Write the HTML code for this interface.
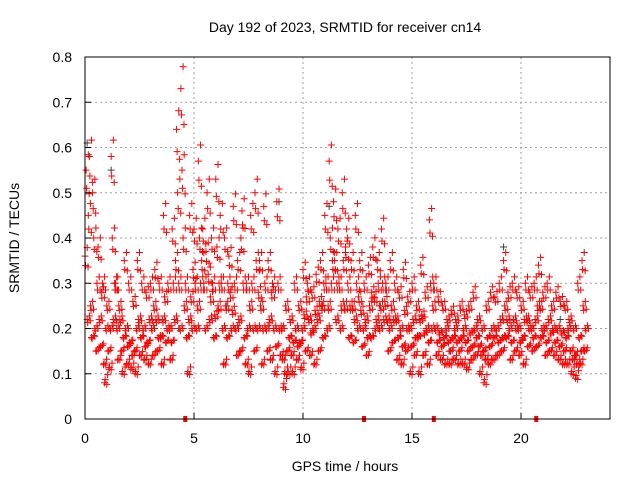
<!DOCTYPE html>
<html><head><meta charset="utf-8"><style>
body{margin:0;background:#fff}
svg{display:block;font-family:"Liberation Sans",sans-serif}
</style></head><body>
<svg id="chart" width="640" height="480">
<rect width="640" height="480" fill="#fff"/>
<text x="345" y="32" font-size="14" text-anchor="middle">Day 192 of 2023, SRMTID for receiver cn14</text>
<text x="345" y="471" font-size="14" text-anchor="middle">GPS time / hours</text>
<text transform="translate(19,238) rotate(-90)" font-size="14" text-anchor="middle">SRMTID / TECUs</text>
<g id="grid"></g><g id="gray"></g><g id="red"></g><g id="axes"></g>
</svg>
<script>
const xTicks=[0,5,10,15,20];
const yTicks=[0,0.1,0.2,0.3,0.4,0.5,0.6,0.7,0.8];
const yTickLabels=["0","0.1","0.2","0.3","0.4","0.5","0.6","0.7","0.8"];
const times=[0,0.2,0.4,0.6,0.8,1,1.2,1.4,1.6,1.8,2,2.2,2.4,2.6,2.8,3,3.2,3.4,3.6,3.8,4,4.2,4.4,4.6,4.8,5,5.2,5.4,5.6,5.8,6,6.2,6.4,6.6,6.8,7,7.2,7.4,7.6,7.8,8,8.2,8.4,8.6,8.8,9,9.2,9.4,9.6,9.8,10,10.2,10.4,10.6,10.8,11,11.2,11.4,11.6,11.8,12,12.2,12.4,12.6,12.8,13,13.2,13.4,13.6,13.8,14,14.2,14.4,14.6,14.8,15,15.2,15.4,15.6,15.8,16,16.2,16.4,16.6,16.8,17,17.2,17.4,17.6,17.8,18,18.2,18.4,18.6,18.8,19,19.2,19.4,19.6,19.8,20,20.2,20.4,20.6,20.8,21,21.2,21.4,21.6,21.8,22,22.2,22.4,22.6,22.8];
const vals=[[.36,.55,.22,.45],[.58,.25,.18,.5],[.4,.2,.15,.3],[.38,.22,.16,.28],[.3,.12,.08,.2],[.25,.15,.11,.2],[.58,.4,.22,.3],[.3,.2,.13,.25],[.22,.15,.1,.18],[.35,.2,.12,.16],[.3,.17,.11,.14],[.26,.15,.1,.2],[.35,.22,.14,.18],[.3,.2,.13,.16],[.28,.17,.12,.22],[.3,.2,.14,.25],[.33,.22,.15,.18],[.3,.18,.12,.22],[.45,.27,.17,.2],[.3,.2,.13,.17],[.42,.3,.22,.35],[.64,.5,.3,.2],[.73,.55,.4,.25],[.3,.18,.1,.22],[.45,.27,.2,.33],[.42,.3,.2,.25],[.57,.4,.3,.35],[.42,.3,.2,.37],[.5,.32,.22,.27],[.4,.3,.18,.23],[.53,.38,.25,.3],[.45,.3,.2,.12],[.4,.25,.18,.3],[.36,.28,.2,.24],[.47,.3,.2,.14],[.35,.22,.15,.4],[.46,.3,.18,.12],[.3,.2,.1,.25],[.45,.3,.2,.15],[.5,.35,.2,.28],[.35,.25,.12,.2],[.47,.3,.2,.15],[.35,.22,.13,.28],[.3,.2,.1,.16],[.48,.3,.2,.14],[.2,.13,.07,.1],[.25,.15,.1,.18],[.22,.14,.1,.17],[.3,.2,.13,.16],[.25,.17,.11,.2],[.33,.23,.15,.27],[.3,.22,.14,.19],[.28,.2,.12,.24],[.32,.22,.15,.26],[.35,.25,.18,.3],[.45,.3,.2,.25],[.57,.4,.3,.35],[.48,.35,.22,.3],[.42,.3,.2,.25],[.5,.35,.25,.38],[.42,.3,.18,.25],[.35,.25,.17,.22],[.45,.3,.2,.27],[.35,.24,.16,.2],[.3,.22,.14,.18],[.34,.25,.18,.28],[.38,.27,.2,.22],[.35,.3,.2,.25],[.42,.3,.22,.26],[.3,.22,.15,.2],[.35,.25,.17,.22],[.3,.22,.13,.18],[.28,.2,.12,.16],[.33,.24,.15,.2],[.27,.2,.1,.16],[.3,.22,.14,.18],[.25,.18,.1,.22],[.34,.23,.14,.19],[.28,.2,.12,.17],[.44,.3,.2,.25],[.3,.2,.14,.17],[.27,.19,.13,.16],[.25,.18,.12,.2],[.22,.17,.12,.15],[.24,.18,.13,.2],[.22,.17,.12,.15],[.25,.18,.12,.2],[.23,.17,.11,.15],[.25,.19,.13,.16],[.28,.2,.14,.18],[.22,.16,.1,.14],[.2,.15,.08,.13],[.25,.18,.12,.16],[.28,.2,.13,.18],[.27,.2,.14,.17],[.3,.22,.15,.18],[.35,.25,.18,.22],[.28,.2,.13,.17],[.3,.22,.15,.2],[.28,.2,.14,.17],[.25,.18,.12,.22],[.3,.22,.16,.2],[.28,.2,.15,.18],[.3,.22,.16,.25],[.34,.25,.18,.2],[.28,.2,.14,.17],[.3,.22,.15,.19],[.25,.2,.14,.17],[.28,.2,.13,.16],[.26,.19,.12,.15],[.25,.18,.12,.2],[.22,.15,.1,.13],[.2,.14,.09,.12],[.3,.18,.12,.15],[.35,.25,.15,.2]];
const grayT=[0.1,1.2,4.3,6.5,8.9,11.2,13.5,16.7,19.2,21.8,22.5];
const grayV=[0.61,0.55,0.2,0.25,0.48,0.47,0.25,0.15,0.38,0.22,0.14];
const gapT=[4.6,12.8,16.0,20.7];
const NS="http://www.w3.org/2000/svg";
const X0=85,X1=610,Y0=419,Y1=57;
const xs=t=>X0+t*(521-85)/20;
const ys=v=>Y0-v*(Y0-Y1)/0.8;
function mk(tag,attrs,parent){const e=document.createElementNS(NS,tag);for(const k in attrs)e.setAttribute(k,attrs[k]);parent.appendChild(e);return e;}
const grid=document.getElementById('grid'),axes=document.getElementById('axes');
xTicks.forEach(t=>{
 if(t>0){const g=mk('line',{x1:xs(t),x2:xs(t),y1:Y1,y2:Y0,stroke:'#a0a0a0','stroke-dasharray':'2,3'},grid);
 
 }
 const tk=mk('line',{x1:xs(t),x2:xs(t),y1:Y0,y2:Y0-6,stroke:'#000'},axes);
 
 
 const l=mk('text',{x:xs(t),y:443,'font-size':14,'text-anchor':'middle'},axes);l.textContent=t;
 
 
});
yTicks.forEach((v,i)=>{
 if(v>0&&v<0.8){const g=mk('line',{x1:X0,x2:X1,y1:ys(v),y2:ys(v),stroke:'#a0a0a0','stroke-dasharray':'2,3'},grid);
 
 }
 const tk=mk('line',{x1:X0,x2:X0+6,y1:ys(v),y2:ys(v),stroke:'#000'},axes);
 
 
 const l=mk('text',{x:72,y:ys(v)+5,'font-size':14,'text-anchor':'end'},axes);l.textContent=yTickLabels[i];
 
 
});
const frame=mk('rect',{x:X0,y:Y1,width:X1-X0,height:Y0-Y1,fill:'none',stroke:'#000'},axes);


function plus(x,y,col,parent){const p=mk('path',{d:`M${x-3.5},${y}h7M${x},${y-3.5}v7`,stroke:col,'stroke-width':1,fill:'none'},parent);return p;}
const gg=document.getElementById('gray');
grayT.forEach((t,i)=>{const p=plus(xs(t),ys(grayV[i]),'#404040',gg);
 
 });
const rg=document.getElementById('red');
times.forEach((t,i)=>{vals[i].forEach((v,j)=>{
 const p=plus(xs(t+j*0.05),ys(v),'#ff0000',rg);
 
 
 const p2=plus(xs(t+j*0.05+0.025),ys(v*0.9+0.015),'#ff0000',rg);
 
 
 const p3=plus(xs(t+j*0.05+0.1),ys(v*1.08-0.01),'#ff0000',rg);
 
 
 const p4=plus(xs(t+j*0.05+0.14),ys(v*0.85+0.03),'#ff0000',rg);
 
 
});});
gapT.forEach(t=>{const r=mk('rect',{x:xs(t)-2,y:Y0-3,width:4,height:6,fill:'#ff0000'},rg);
 
 });
</script>
</body></html>
